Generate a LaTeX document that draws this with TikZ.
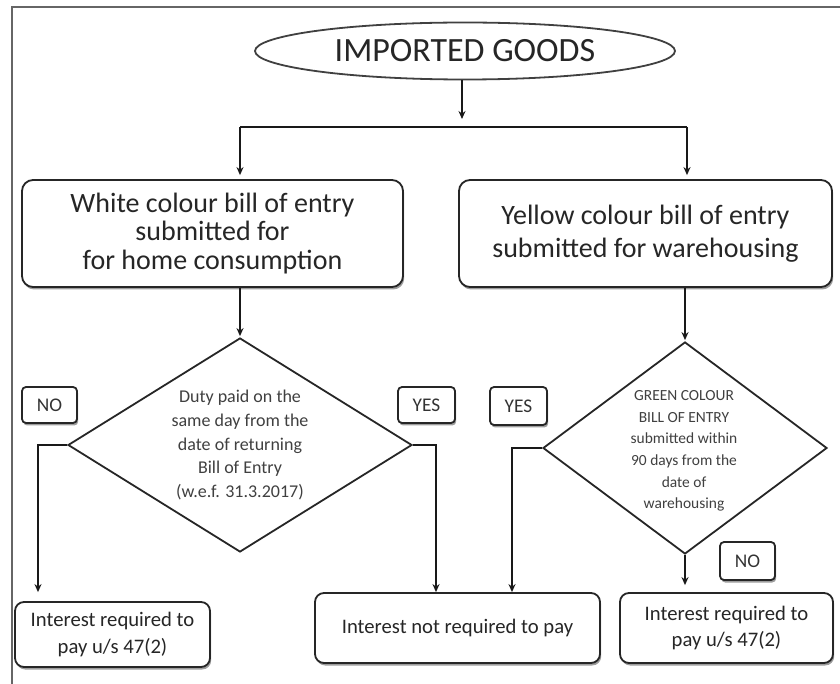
\documentclass[tikz,border=0pt]{standalone}
\usepackage{fontspec}
\setmainfont{Carlito}
\usetikzlibrary{shapes.geometric,arrows.meta,shadows}
\newlength\px
\setlength\px{0.75pt}
\begin{document}
\begin{tikzpicture}[x=\px,y=-\px,
  shad/.style={drop shadow={shadow xshift=1.2\px,shadow yshift=-2.5\px,fill=black!55,opacity=0.7}},
  box/.style={draw=black!85,line width=1.8\px,rounded corners=11\px,fill=white,shad,
    inner sep=0pt,align=center,text=black!85},
  tag/.style={draw=black!85,line width=1.8\px,rounded corners=4\px,fill=white,shad,
    inner sep=0pt,align=center,text=black!80,font=\fontsize{14.5}{17}\selectfont},
  dia/.style={draw=black!85,line width=1.8\px,diamond,inner sep=0pt,fill=white},
  ell/.style={draw=black!75,line width=1.8\px,ellipse,inner sep=0pt,fill=white,
    font=\fontsize{25.5}{30}\selectfont,text=black!85},
  conn/.style={draw=black!90,line width=1.8\px},
  arr/.style={conn,-{Stealth[length=6pt,width=5.25pt]}},
  frame/.style={draw=black!60,line width=1.5\px}
]
\useasboundingbox (0,0) rectangle (840,684);
\draw[frame] (12,684) -- (12,7) -- (840,7);

% nodes
\node[ell,minimum width=420\px,minimum height=57\px] (imp) at (465,51) {IMPORTED GOODS};

\node[box,minimum width=381\px,minimum height=107\px,font=\fontsize{21}{21.5}\selectfont] (white) at (212.5,233.5)
  {White colour bill of entry\\submitted for\\for home consumption};
\node[box,minimum width=373\px,minimum height=107\px,font=\fontsize{21}{25}\selectfont] (yellow) at (645.5,233.5)
  {Yellow colour bill of entry\\submitted for warehousing};

\node[dia,minimum width=344\px,minimum height=214\px] (d1) at (240,445) {};
\node[align=center,text=black!75,font=\fontsize{13.5}{17.8}\selectfont] (d1t) at (240,445)
  {Duty paid on the\\same day from the\\date of returning\\Bill of Entry\\(w.e.f. 31.3.2017)};

\node[dia,minimum width=284\px,minimum height=212\px] (d2) at (685,448) {};
\node[align=center,text=black!75,font=\fontsize{11.6}{16.2}\selectfont] (d2t) at (684,451)
  {GREEN COLOUR\\BILL OF ENTRY\\submitted within\\90 days from the\\date of\\warehousing};

\node[tag,minimum width=55\px,minimum height=36\px] (no1) at (49.5,405) {NO};
\node[tag,minimum width=57\px,minimum height=36\px] (yes1) at (426.5,405) {YES};
\node[tag,minimum width=57\px,minimum height=38\px] (yes2) at (518.5,406) {YES};
\node[tag,minimum width=55\px,minimum height=38\px] (no2) at (747.5,561) {NO};

\node[box,rounded corners=9\px,minimum width=195\px,minimum height=65\px,font=\fontsize{15.5}{20}\selectfont] (lb) at (112.5,634.5)
  {Interest required to\\pay u/s 47(2)};
\node[box,rounded corners=9\px,minimum width=285\px,minimum height=70\px,font=\fontsize{15.5}{20}\selectfont] (mid) at (457.5,628)
  {Interest not required to pay};
\node[box,rounded corners=9\px,minimum width=213\px,minimum height=70\px,font=\fontsize{15.5}{20}\selectfont] (rb) at (726.5,628)
  {Interest required to\\pay u/s 47(2)};

% connectors
\coordinate (bar) at (462,127);
\coordinate (barL) at (240,127);
\coordinate (barR) at (687,127);
\draw[arr,shorten >=6pt] (imp.south -| bar) -- (bar);
\draw[conn] (barL) -- (barR);
\draw[arr,shorten >=3pt] (barL) -- (barL |- white.north);
\draw[arr,shorten >=3pt] (barR) -- (barR |- yellow.north);
\draw[arr,shorten >=0.75pt] (white.south -| d1.north) -- (d1.north);
\draw[arr,shorten >=0.75pt] (yellow.south -| d2.north) -- (d2.north);

\coordinate (k1) at (38,445);
\coordinate (k2) at (436,445);
\coordinate (k3) at (512,448);
\draw[arr,shorten >=6.75pt] (d1.west) -- (k1) -- (k1 |- lb.north);
\draw[arr] (d1.east) -- (k2) -- (k2 |- mid.north);
\draw[arr] (d2.west) -- (k3) -- (k3 |- mid.north);
\draw[arr,shorten >=5.25pt] (d2.south) -- (d2.south |- rb.north);
\end{tikzpicture}
\end{document}
